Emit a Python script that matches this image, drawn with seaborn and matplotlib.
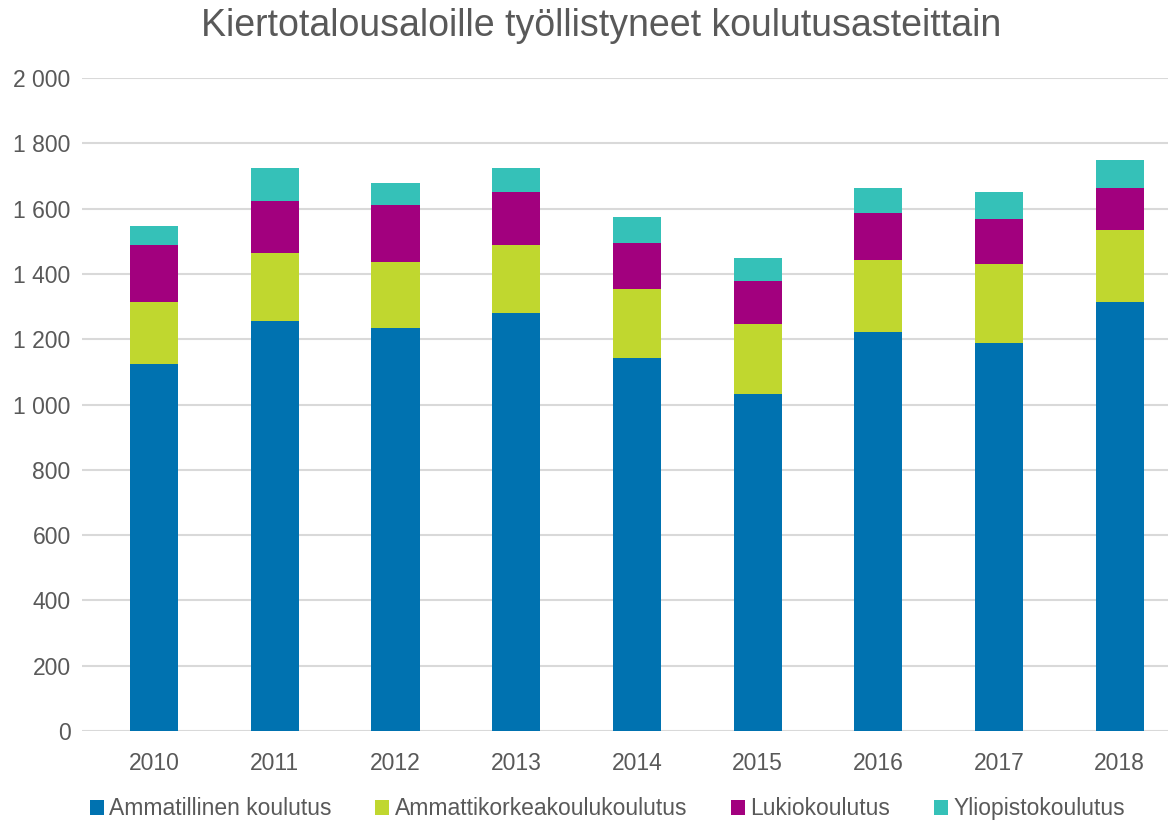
import numpy as np
import pandas as pd
import matplotlib
matplotlib.use("Agg")
import matplotlib.pyplot as plt
from matplotlib.patches import Patch
from matplotlib.ticker import FuncFormatter
import seaborn as sns

years = ["2010", "2011", "2012", "2013", "2014", "2015", "2016", "2017", "2018"]
ammatillinen = [1124, 1255, 1235, 1280, 1144, 1032, 1222, 1190, 1314]
amk = [190, 209, 203, 210, 209, 216, 221, 241, 221]
lukio = [175, 161, 174, 162, 143, 130, 143, 136, 130]
yliopisto = [59, 99, 66, 72, 79, 72, 79, 85, 85]

series_names = ["Ammatillinen koulutus", "Ammattikorkeakoulukoulutus", "Lukiokoulutus", "Yliopistokoulutus"]
colors = ["#0072B0", "#C0D72F", "#A2007E", "#35C1B8"]
title = "Kiertotalousaloille työllistyneet koulutusasteittain"

sns.set_theme(style="white")
plt.rcParams['font.family'] = ['Liberation Sans', 'DejaVu Sans']
text_color = "#595959"

df = pd.DataFrame({"year": years, "a": ammatillinen, "b": amk, "c": lukio, "d": yliopisto})
cum = df[["a", "b", "c", "d"]].cumsum(axis=1)

fig = plt.figure(figsize=(11.68, 8.23), dpi=100)
ax = fig.add_axes([0.070, 0.112, 0.930, 0.793])

for col, color in zip(["d", "c", "b", "a"], colors[::-1]):
    sns.barplot(x=df["year"], y=cum[col], color=color, width=0.40, ax=ax,
                saturation=1, linewidth=0, zorder=3)

ax.set_ylim(0, 2000)
ax.set_xlim(-0.6, 8.4)
ax.set_yticks(np.arange(0, 2001, 200))
ax.yaxis.set_major_formatter(FuncFormatter(lambda v, p: f"{int(v):,}".replace(",", " ")))
ax.grid(axis="y", color="#D9D9D9", linewidth=1.5, zorder=0)
ax.set_axisbelow(True)
for s in ax.spines.values():
    s.set_visible(False)
ax.set_xlabel("")
ax.set_ylabel("")
ax.tick_params(axis="y", length=0, pad=8, labelsize=16.5, labelcolor=text_color)
ax.tick_params(axis="x", length=0, pad=15, labelsize=16.5, labelcolor=text_color)

fig.suptitle(title, x=0.515, y=0.99, fontsize=27, color=text_color)

handles = [Patch(facecolor=c, edgecolor="none") for c in colors]
fig.legend(handles, series_names, loc="lower center", bbox_to_anchor=(0.52, -0.022),
           ncol=4, frameon=False, fontsize=16.5, labelcolor=text_color,
           handlelength=0.6, handleheight=0.6, handletextpad=0.25, columnspacing=1.9)

fig.savefig("out.png", dpi=100)
